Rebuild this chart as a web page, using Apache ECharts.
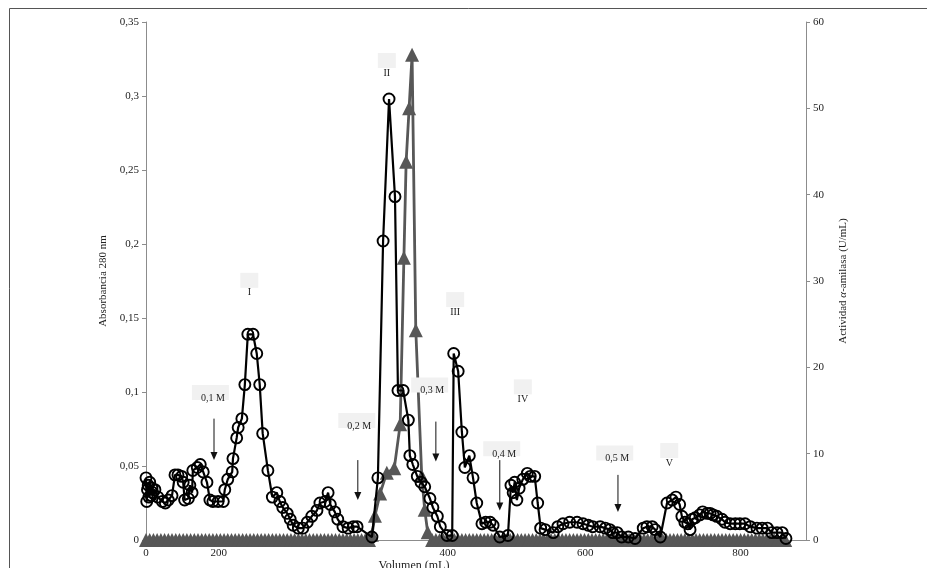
<!DOCTYPE html>
<html>
<head>
<meta charset="utf-8">
<script src="https://cdn.jsdelivr.net/npm/echarts@6/dist/echarts.min.js"></script>
<style>
  html, body { margin: 0; padding: 0; background: #fff; }
  #main { width: 927px; height: 568px; }
</style>
</head>
<body>
<div id="main"></div>
<script>
// absorbancia 280 nm (eje izquierdo), volumen en mL
var absVolume = [
  0, 1, 2, 3, 4, 5, 7, 8, 9, 12,
  16, 22, 26, 30, 35, 39, 43, 48, 50, 52,
  57, 59, 62, 63, 69, 73, 77, 82, 86, 90,
  97, 104, 106, 110, 116, 117, 122, 124, 129, 133,
  137, 144, 149, 153, 157, 164, 170, 176, 180, 184,
  190, 194, 198, 205, 211, 217, 223, 230, 234, 241,
  245, 248, 254, 258, 265, 272, 279, 284, 304, 312,
  319, 327, 335, 339, 346, 353, 355, 359, 365, 370,
  375, 382, 386, 392, 396, 405, 412, 414, 420, 425,
  429, 435, 440, 445, 452, 457, 463, 467, 476, 487,
  491, 494, 496, 499, 502, 507, 513, 517, 523, 527,
  531, 537, 548, 554, 561, 570, 580, 588, 595, 601,
  611, 618, 624, 628, 634, 640, 649, 658, 669, 674,
  681, 685, 692, 701, 708, 713, 718, 721, 725, 729,
  732, 735, 739, 745, 749, 755, 759, 763, 768, 775,
  779, 786, 793, 799, 806, 813, 822, 829, 836, 842,
  849, 856, 861
]
var absorbance = [
  0.042, 0.026, 0.034, 0.037, 0.029, 0.039, 0.030, 0.035, 0.032, 0.034,
  0.029, 0.026, 0.025, 0.027, 0.030, 0.044, 0.044, 0.043, 0.039, 0.027,
  0.028, 0.037, 0.032, 0.047, 0.049, 0.051, 0.046, 0.039, 0.027, 0.026,
  0.026, 0.026, 0.034, 0.041, 0.046, 0.055, 0.069, 0.076, 0.082, 0.105,
  0.139, 0.139, 0.126, 0.105, 0.072, 0.047, 0.029, 0.032, 0.026, 0.022,
  0.018, 0.014, 0.010, 0.008, 0.008, 0.012, 0.016, 0.020, 0.025, 0.026,
  0.032, 0.024, 0.019, 0.014, 0.009, 0.008, 0.009, 0.009, 0.002, 0.042,
  0.202, 0.298, 0.232, 0.101, 0.101, 0.081, 0.057, 0.051, 0.043, 0.039,
  0.036, 0.028, 0.022, 0.016, 0.009, 0.003, 0.003, 0.126, 0.114, 0.073,
  0.049, 0.057, 0.042, 0.025, 0.011, 0.012, 0.012, 0.010, 0.002, 0.003,
  0.037, 0.032, 0.039, 0.027, 0.035, 0.041, 0.045, 0.043, 0.043, 0.025,
  0.008, 0.007, 0.005, 0.009, 0.011, 0.012, 0.012, 0.011, 0.010, 0.009,
  0.009, 0.008, 0.007, 0.005, 0.005, 0.002, 0.002, 0.001, 0.008, 0.009,
  0.009, 0.007, 0.002, 0.025, 0.027, 0.029, 0.024, 0.016, 0.012, 0.011,
  0.007, 0.014, 0.015, 0.017, 0.019, 0.018, 0.018, 0.017, 0.016, 0.014,
  0.012, 0.011, 0.011, 0.011, 0.011, 0.009, 0.008, 0.008, 0.008, 0.005,
  0.005, 0.005, 0.001
]

// actividad alfa-amilasa U/mL (eje derecho)
var actVolume = [
  0, 5, 10, 15, 20, 25, 30, 35, 40, 45, 50, 55, 60, 65, 70, 75, 80, 85, 90, 95,
  100, 105, 110, 115, 120, 125, 130, 135, 140, 145, 150, 155, 160, 165, 170, 175, 180, 185, 190, 195,
  200, 205, 210, 215, 220, 225, 230, 235, 240, 245, 250, 255, 260, 265, 270, 275, 280, 285, 290, 295,
  300,
  304, 308, 315, 324, 334, 342, 347, 350, 354, 358, 363, 371, 375, 379,
  385, 390, 395, 400, 405, 410, 415, 420, 425, 430, 435, 440, 445, 450, 455, 460, 465, 470, 475, 480,
  485, 490, 495, 500, 505, 510, 515, 520, 525, 530, 535, 540, 545, 550, 555, 560, 565, 570, 575, 580,
  585, 590, 595, 600, 605, 610, 615, 620, 625, 630, 635, 640, 645, 650, 655, 660, 665, 670, 675, 680,
  685, 690, 695, 700, 705, 710, 715, 720, 725, 730, 735, 740, 745, 750, 755, 760, 765, 770, 775, 780,
  785, 790, 795, 800, 805, 810, 815, 820, 825, 830, 835, 840, 845, 850, 855, 860
]
var activity = [
  0, 0, 0, 0, 0, 0, 0, 0, 0, 0, 0, 0, 0, 0, 0, 0, 0, 0, 0, 0,
  0, 0, 0, 0, 0, 0, 0, 0, 0, 0, 0, 0, 0, 0, 0, 0, 0, 0, 0, 0,
  0, 0, 0, 0, 0, 0, 0, 0, 0, 0, 0, 0, 0, 0, 0, 0, 0, 0, 0, 0,
  0,
  0.6, 2.8, 5.4, 7.8, 8.3, 13.4, 32.7, 43.8, 50.0, 56.2, 24.3, 7.4, 3.5, 0.9,
  0, 0, 0, 0, 0, 0, 0, 0, 0, 0, 0, 0, 0, 0, 0, 0, 0, 0, 0, 0,
  0, 0, 0, 0, 0, 0, 0, 0, 0, 0, 0, 0, 0, 0, 0, 0, 0, 0, 0, 0,
  0, 0, 0, 0, 0, 0, 0, 0, 0, 0, 0, 0, 0, 0, 0, 0, 0, 0, 0, 0,
  0, 0, 0, 0, 0, 0, 0, 0, 0, 0, 0, 0, 0, 0, 0, 0, 0, 0, 0, 0,
  0, 0, 0, 0, 0, 0, 0, 0, 0, 0, 0, 0, 0, 0, 0, 0
]

// etiquetas del eje x (tal como aparecen en la figura)
var xTickValues = [0, 98, 406, 591, 800]
var xTickLabels = ['0', '200', '400', '600', '800']

// picos I-V y escalones de NaCl, en coordenadas de datos
var peakNames = ['I', 'II', 'III', 'IV', 'V']
var peakVolume = [139, 324, 416, 507, 704]
var peakAbs = [0.167, 0.3155, 0.154, 0.095, 0.052]

var saltNames = ['0,1 M', '0,2 M', '0,3 M', '0,4 M', '0,5 M']
var saltTextVolume = [90, 287, 385, 482, 634]
var saltTextAbs = [0.096, 0.077, 0.101, 0.058, 0.055]
var arrowVolume = [91.5, 285, 390, 476, 635]
var arrowTail = [0.082, 0.054, 0.080, 0.054, 0.044]
var arrowTip = [0.054, 0.027, 0.053, 0.020, 0.019]

var serif = '"Liberation Serif", "DejaVu Serif", serif'

function pairs (xs, ys) {
  return xs.map(function (x, i) { return [x, ys[i]] })
}

var myChart = echarts.init(document.getElementById('main'))

var option = {
  animation: false,
  backgroundColor: '#fff',
  grid: { left: 146, right: 121, top: 22, bottom: 28 },
  xAxis: {
    type: 'value',
    min: 0,
    max: 888,
    axisLine: { lineStyle: { color: '#8c8c8c', width: 1 } },
    axisTick: { show: false },
    splitLine: { show: false },
    axisLabel: {
      customValues: xTickValues,
      formatter: function (v) {
        var i = xTickValues.indexOf(v)
        return i >= 0 ? xTickLabels[i] : ''
      },
      color: '#222',
      fontFamily: serif,
      fontSize: 11,
      margin: 8
    }
  },
  yAxis: [
    {
      type: 'value',
      position: 'left',
      min: 0,
      max: 0.35,
      interval: 0.05,
      name: 'Absorbancia 280 nm',
      nameLocation: 'middle',
      nameGap: 34,
      nameRotate: 90,
      nameTextStyle: { color: '#222', fontFamily: serif, fontSize: 11 },
      axisLine: { show: true, lineStyle: { color: '#8c8c8c' } },
      axisTick: { show: true, length: 4, lineStyle: { color: '#8c8c8c' } },
      splitLine: { show: false },
      axisLabel: {
        formatter: function (v) {
          return String(Math.round(v * 100) / 100).replace('.', ',')
        },
        color: '#222',
        fontFamily: serif,
        fontSize: 11,
        margin: 7
      }
    },
    {
      type: 'value',
      position: 'right',
      min: 0,
      max: 60,
      interval: 10,
      name: '{n|Actividad }{i|α}{n|-amilasa (U/mL)}',
      nameLocation: 'middle',
      nameGap: 32,
      nameRotate: 90,
      nameTextStyle: {
        rich: {
          n: { color: '#222', fontFamily: serif, fontSize: 11 },
          i: { color: '#222', fontFamily: serif, fontSize: 11, fontStyle: 'italic' }
        }
      },
      axisLine: { show: true, lineStyle: { color: '#8c8c8c' } },
      axisTick: { show: true, length: 4, lineStyle: { color: '#8c8c8c' } },
      splitLine: { show: false },
      axisLabel: { color: '#222', fontFamily: serif, fontSize: 11, margin: 7 }
    }
  ],
  series: [
    {
      name: 'Actividad',
      type: 'line',
      yAxisIndex: 1,
      z: 2,
      data: pairs(actVolume, activity),
      showAllSymbol: true,
      symbol: 'triangle',
      symbolSize: 14,
      lineStyle: { color: '#575757', width: 2.8 },
      itemStyle: { color: '#575757' }
    },
    {
      name: 'Absorbancia',
      type: 'line',
      yAxisIndex: 0,
      z: 3,
      data: pairs(absVolume, absorbance),
      showAllSymbol: true,
      symbol: 'circle',
      symbolSize: 11,
      lineStyle: { color: '#000', width: 2.2 },
      itemStyle: { color: 'rgba(0,0,0,0)', borderColor: '#000', borderWidth: 1.9 }
    }
  ]
}

myChart.setOption(option)

// anotaciones: se colocan en coordenadas de datos
function px (v, a) {
  return myChart.convertToPixel({ gridIndex: 0 }, [v, a])
}

var graphics = [
  {
    type: 'rect',
    shape: { x: 9.5, y: 8.5, width: 940, height: 600 },
    style: { fill: 'none', stroke: '#555', lineWidth: 1 },
    z: 100
  },
  {
    type: 'text',
    x: 414,
    y: 560,
    style: { text: 'Volumen (mL)', font: '12px ' + serif, fill: '#222', textAlign: 'center', textVerticalAlign: 'top' },
    z: 100
  }
]

peakNames.forEach(function (name, i) {
  var p = px(peakVolume[i], peakAbs[i])
  graphics.push({
    type: 'rect',
    shape: { x: p[0] - 9, y: p[1] - 20, width: 18, height: 15 },
    style: { fill: '#f1f1f1' },
    z: 90
  })
  graphics.push({
    type: 'text',
    x: p[0],
    y: p[1],
    style: { text: name, font: '10px ' + serif, fill: '#222', textAlign: 'center', textVerticalAlign: 'middle' },
    z: 91
  })
})

saltNames.forEach(function (name, i) {
  var t = px(saltTextVolume[i], saltTextAbs[i])
  var a = px(arrowVolume[i], arrowTail[i])
  var b = px(arrowVolume[i], arrowTip[i])
  graphics.push({
    type: 'rect',
    shape: { x: t[0] - 21, y: t[1] - 13, width: 37, height: 15 },
    style: { fill: '#f1f1f1' },
    z: 90
  })
  graphics.push({
    type: 'text',
    x: t[0],
    y: t[1],
    style: { text: name, font: '10px ' + serif, fill: '#222', textAlign: 'center', textVerticalAlign: 'middle' },
    z: 91
  })
  graphics.push({
    type: 'line',
    shape: { x1: a[0], y1: a[1], x2: b[0], y2: b[1] - 6 },
    style: { stroke: '#111', lineWidth: 1 },
    z: 91
  })
  graphics.push({
    type: 'polygon',
    shape: { points: [[b[0] - 3.5, b[1] - 8], [b[0] + 3.5, b[1] - 8], [b[0], b[1]]] },
    style: { fill: '#111' },
    z: 91
  })
})

myChart.setOption({ graphic: graphics })
</script>
</body>
</html>
